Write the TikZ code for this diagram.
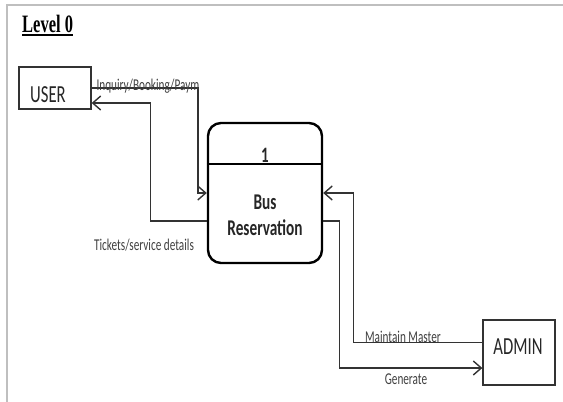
\documentclass[tikz,border=0pt]{standalone}
\usepackage{fontspec}
\setmainfont{Carlito}[FakeStretch=0.68]
\newfontfamily\titlefont{Liberation Serif}[FakeStretch=0.66]
\usetikzlibrary{arrows.meta}

\begin{document}
\begin{tikzpicture}[x=1pt, y=-1pt, ink/.style={black!80},
   ext node/.style={rectangle, draw=black!80, line width=1.3pt, minimum width=72pt, minimum height=#1, inner sep=0pt},
   ext text/.style={font=\fontsize{24.5}{26}\selectfont, text=black!85},
   proc node/.style={rectangle, rounded corners=13pt, draw=black, line width=2.4pt, minimum width=114pt, minimum height=140pt},
   flow/.style={draw=black!80, line width=1.4pt, -{Straight Barb[length=8pt, width=14pt, line width=1.4pt]}},
   flow label/.style={font=\fontsize{16.5}{18}\selectfont, text=black!75, inner sep=0pt, anchor=base}]
   \useasboundingbox (0,0) rectangle (563,402);
   \draw[black!25, line width=1.5pt] (7,402) |- (563,5);

   % title
   \node[anchor=base west, inner sep=0pt, font=\titlefont\fontsize{25}{28}\selectfont\bfseries] (title) at (22,32) {Level 0};
   \draw[line width=1.5pt] ([yshift=-3pt]title.base west) -- ([yshift=-3pt]title.base east);

   % entities and process
   \node[ext node=42pt, label={[ext text, shift={(-7,7)}]center:USER}] (user) at (55,88) {};
   \node[ext node=65pt, label={[ext text, shift={(-1,-6)}]center:ADMIN}] (admin) at (519,352.5) {};
   \node[proc node] (proc) at (265,193) {};
   \draw[line width=1.4pt] (proc.west |- 0,164) -- (proc.east |- 0,164);
   \node[font=\bfseries\fontsize{22}{24}\selectfont, text=black!85, anchor=base] (num) at (265,162) {1};
   \node[font=\bfseries\fontsize{22.5}{26}\selectfont, text=black!85, align=center] (name) at (265,215.5) {Bus\\Reservation};

   % data flows
   \draw[flow] (user.east) -| ([xshift=-9pt]proc.west) -- (proc.west);
   \draw[flow] ([yshift=-28pt]proc.west) -| ([xshift=59pt, yshift=-15pt]user.east) -- ([yshift=-15pt]user.east);
   \draw[flow] ([yshift=10pt]admin.west) -| ([xshift=30pt]proc.east) -- (proc.east);
   \draw[flow] ([yshift=-28pt]proc.east) -| ([xshift=-143pt, yshift=-15.5pt]admin.west) -- ([yshift=-15.5pt]admin.west);

   \node[flow label] (inq) at (148,90) {Inquiry/Booking/Paym};
   \node[flow label] (tick) at (144,250) {Tickets/service details};
   \node[flow label] (maint) at (403,342) {Maintain Master};
   \node[flow label] (gen) at (406,384) {Generate};
\end{tikzpicture}
\end{document}
